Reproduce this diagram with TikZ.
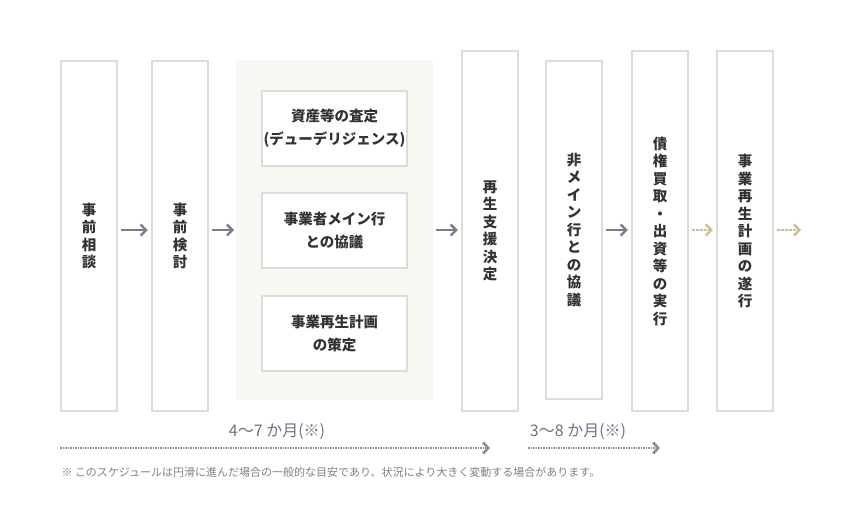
\documentclass[tikz,border=0pt]{standalone}
\usepackage{fontspec}
\setmainfont{Noto Sans CJK JP}
\usetikzlibrary{arrows.meta}
\definecolor{framegray}{HTML}{DCDCDC}
\definecolor{panelbg}{HTML}{F8F7F2}
\definecolor{textdark}{HTML}{333333}
\definecolor{arrowgray}{HTML}{7C7A93}
\definecolor{dotgold}{HTML}{CBBD8E}
\tikzset{
	stage/.style={draw=framegray, line width=2.5pt, fill=white, minimum width=56pt, inner sep=0pt, font=\fontsize{14.5}{17.5}\selectfont\bfseries, text=textdark, align=center},
	subbox/.style={draw=framegray, line width=2.5pt, fill=white, minimum width=145pt, minimum height=75pt, inner sep=0pt, font=\fontsize{14.5}{23}\selectfont\bfseries, text=textdark, align=center},
	flow/.style={arrowgray, line width=2.3pt, -{Straight Barb[length=5.5pt,width=11pt]}},
	goldflow/.style={dotgold, line width=2.3pt, dash pattern=on 2.5pt off 1.5pt, -{Straight Barb[length=5.5pt,width=11pt]}},
	span/.style={arrowgray!85, line width=2.8pt, dash pattern=on 1.5pt off 1pt, -{Straight Barb[length=5pt,width=11pt]}},
}
\begin{document}
\begin{tikzpicture}[x=1pt,y=-1pt]
	\useasboundingbox (0,0) rectangle (860,530);
	\fill [panelbg] (236,60) rectangle (433,400);
	\node [stage, minimum height=350pt] (consult) at (89,236) {事\\前\\相\\談};
	\node [stage, minimum height=350pt] (review) at (180,236) {事\\前\\検\\討};
	\node [subbox] (assets) at (334.5,128.5) {資産等の査定\\(デューデリジェンス)};
	\node [subbox] (mainbank) at (334.5,230.5) {事業者メイン行\\との協議};
	\node [subbox] (plan) at (334.5,333.5) {事業再生計画\\の策定};
	\node [stage, minimum height=360pt] (decide) at (490,231) {再\\生\\支\\援\\決\\定};
	\node [stage, minimum height=338pt] (others) at (574,230) {非\\メ\\イ\\ン\\行\\と\\の\\協\\議};
	\node [stage, minimum height=360pt] (purchase) at (660,231) {債\\権\\買\\取\\・\\出\\資\\等\\の\\実\\行};
	\node [stage, minimum height=360pt] (execute) at (745,231) {事\\業\\再\\生\\計\\画\\の\\遂\\行};
	\coordinate (beyond) at (801,230);
	% arrows between stages
	\draw [flow] (consult.east |- 0,230) ++(3,0) -- ([xshift=-3pt]review.west |- 0,230);
	\draw [flow] (review.east |- 0,230) ++(3,0) -- (234,230);
	\draw [flow] (436,230) -- ([xshift=-3pt]decide.west |- 0,230);
	\draw [flow] (others.east |- 0,230) ++(3,0) -- ([xshift=-3pt]purchase.west |- 0,230);
	\draw [goldflow] (purchase.east |- 0,230) ++(3,0) -- ([xshift=-3pt]execute.west |- 0,230);
	\draw [goldflow] (execute.east |- 0,230) ++(3,0) -- (beyond);
	% durations
	\coordinate (spanA) at (60,448);
	\coordinate (spanAend) at (490,448);
	\coordinate (spanB) at (528,448);
	\coordinate (spanBend) at (660,448);
	\draw [span] (spanA) -- (spanAend);
	\draw [span] (spanB) -- (spanBend);
	\node [text=arrowgray!90!black, font=\fontsize{16}{18}\selectfont] (durA) at (277,432) {4〜7 か月(※)};
	\node [text=arrowgray!90!black, font=\fontsize{16}{18}\selectfont] (durB) at (578,432) {3〜8 か月(※)};
	\node [anchor=west, text=gray, font=\fontsize{11}{12}\selectfont] (note) at (58,472) {※ このスケジュールは円滑に進んだ場合の一般的な目安であり、状況により大きく変動する場合があります。};
\end{tikzpicture}
\end{document}
